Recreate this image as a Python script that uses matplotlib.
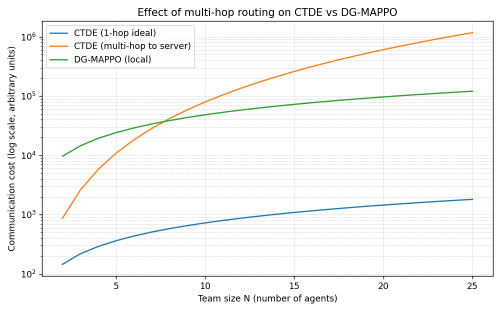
import matplotlib
matplotlib.use("Agg")
import matplotlib.pyplot as plt
import numpy as np

team_size = list(range(2, 26))
ctde_1hop = [145, 218, 290, 362, 435, 508, 580, 652, 725, 798, 870, 942,
             1015, 1088, 1160, 1232, 1305, 1378, 1450, 1522, 1595, 1668, 1740, 1812]
ctde_multihop = [870, 2610, 5800, 10875, 18270, 28420, 41760, 58725, 79750,
                 105270, 135720, 171535, 213150, 261000, 315520, 377145, 446310,
                 523450, 609000, 703395, 807070, 920460, 1044000, 1178125]
dg_mappo = [9700, 14500, 19400, 24200, 29000, 33900, 38700, 43600, 48400, 53300,
            58100, 63000, 67800, 72600, 77500, 82300, 87200, 92000, 96900, 101700,
            106600, 111400, 116300, 121000]

SCALE = 2
dpi = 62.5 * SCALE
fig = plt.figure(figsize=(8, 4.96), dpi=dpi)
ax = fig.add_axes([0.084, 0.11, 0.902, 0.822])
ax.plot(team_size, ctde_1hop, label="CTDE (1-hop ideal)")
ax.plot(team_size, ctde_multihop, label="CTDE (multi-hop to server)")
ax.plot(team_size, dg_mappo, label="DG-MAPPO (local)")
ax.set_yscale("log")
ax.set_xlabel("Team size N (number of agents)")
ax.set_ylabel("Communication cost (log scale, arbitrary units)")
ax.set_title("Effect of multi-hop routing on CTDE vs DG-MAPPO")
ax.grid(True, which="both", linestyle="--", linewidth=0.5, alpha=0.6)
ax.legend(loc="upper left")

fig.canvas.draw()
buf = np.asarray(fig.canvas.buffer_rgba()).astype(float)
h, w = buf.shape[0] // SCALE * SCALE, buf.shape[1] // SCALE * SCALE
buf = buf[:h, :w]
small = buf.reshape(h // SCALE, SCALE, w // SCALE, SCALE, 4).mean(axis=(1, 3))
small = np.clip(small, 0, 255).astype(np.uint8)
plt.imsave("out.png", small)
